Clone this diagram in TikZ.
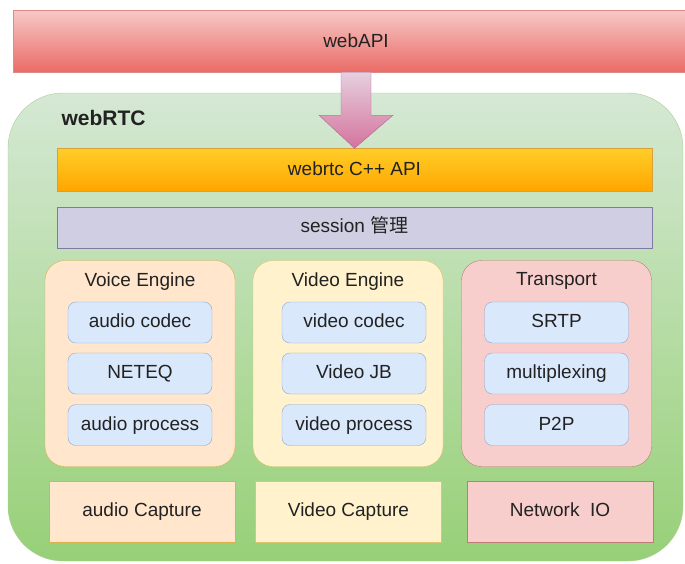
\documentclass[tikz,border=0pt]{standalone}
\usepackage{fontspec}
\setmainfont{Liberation Sans}
\newfontfamily\cjk{Noto Sans CJK SC}
\usetikzlibrary{positioning,calc}

\definecolor{txt}{HTML}{222222}
\definecolor{apitop}{HTML}{F7C9C7}
\definecolor{apibot}{HTML}{EA6B66}
\definecolor{apiline}{HTML}{D98C89}
\definecolor{greentop}{HTML}{D5E8D4}
\definecolor{greenbot}{HTML}{97D077}
\definecolor{greenline}{HTML}{A9CF95}
\definecolor{arrowtop}{HTML}{E6D0DE}
\definecolor{arrowbot}{HTML}{D5739D}
\definecolor{arrowline}{HTML}{A86A94}
\definecolor{cpptop}{HTML}{FFCD28}
\definecolor{cppbot}{HTML}{FFA500}
\definecolor{cppline}{HTML}{D7A13A}
\definecolor{sessfill}{HTML}{D0CEE2}
\definecolor{sessline}{HTML}{7E7AA0}
\definecolor{voicefill}{HTML}{FFE6CC}
\definecolor{voiceline}{HTML}{DDB04A}
\definecolor{videofill}{HTML}{FFF2CC}
\definecolor{videoline}{HTML}{DEC46E}
\definecolor{transfill}{HTML}{F8CECC}
\definecolor{transline}{HTML}{C07A77}
\definecolor{partfill}{HTML}{DAE8FC}
\definecolor{partline}{HTML}{8DA8CF}

\begin{document}
\begin{tikzpicture}[
    x=1pt, y=-1pt,
    every node/.style={font=\fontsize{19}{22}\selectfont, text=txt},
    layer/.style={draw, minimum width=595pt, minimum height=43pt, inner sep=0pt, text height=13pt, text depth=3pt},
    engine/.style={draw, rounded corners=20pt, minimum width=190pt, minimum height=206pt},
    part/.style={draw=partline, fill=partfill, rounded corners=8pt, minimum width=144pt, minimum height=41pt, inner sep=0pt, text height=13pt, text depth=3pt},
    capture/.style={draw, minimum width=186pt, minimum height=61pt, inner sep=0pt, text height=13pt, text depth=3pt}
    ]
    \useasboundingbox (0,0) rectangle (685,563);

    \node[draw=apiline, top color=apitop, bottom color=apibot,
          minimum width=686pt, minimum height=62pt] (webapi) at (356,41) {webAPI};

    \node[draw=greenline, top color=greentop, bottom color=greenbot, rounded corners=55pt,
          minimum width=675pt, minimum height=468pt] (webrtc) at (345.5,327) {};
    \node[anchor=west, font=\fontsize{21}{24}\selectfont\bfseries] (rtclabel) at (58,118) {webRTC};

    \node[layer, draw=cppline, top color=cpptop, bottom color=cppbot] (cppapi) at (354.5,170) {webrtc C++ API};
    \node[layer, draw=sessline, fill=sessfill, minimum height=41pt] (session) at (354.5,227.5) {session {\cjk 管理}};

    % block arrow from webAPI down to the C++ API
    \draw[draw=arrowline, top color=arrowtop, bottom color=arrowbot]
        ($(webapi.south)+(-15,0)$) -- ($(webapi.south)+(15,0)$) -- ($(webapi.south)+(15,43)$)
        -- ($(webapi.south)+(37,43)$) -- (cppapi.north) -- ($(webapi.south)+(-37,43)$)
        -- ($(webapi.south)+(-15,43)$) -- cycle;

    \node[engine, draw=voiceline, fill=voicefill] (voice) at (140,363.5) {};
    \node[engine, draw=videoline, fill=videofill] (video) at (348,363.5) {};
    \node[engine, draw=transline, fill=transfill] (trans) at (556.5,363.5) {};
    \node[below=9pt of voice.north] (voicetitle) {Voice Engine};
    \node[below=9pt of video.north] (videotitle) {Video Engine};
    \node[below=9pt of trans.north] (transtitle) {Transport};

    \node[part] (acodec) at (140,322.5) {audio codec};
    \node[part] (neteq)  at (140,373.5) {NETEQ};
    \node[part] (aproc)  at (140,425)   {audio process};

    \node[part] (vcodec) at (354,322.5) {video codec};
    \node[part] (vjb)    at (354,373.5) {Video JB};
    \node[part] (vproc)  at (354,425)   {video process};

    \node[part] (srtp)   at (556.5,322.5) {SRTP};
    \node[part] (mux)    at (556.5,373.5) {multiplexing};
    \node[part] (ptop)   at (556.5,425)   {P2P};

    \node[capture, draw=voiceline, fill=voicefill] (acap) at (142,511.5) {audio Capture};
    \node[capture, draw=videoline, fill=videofill] (vcap) at (348.5,511.5) {Video Capture};
    \node[capture, draw=transline, fill=transfill] (netio) at (560,511.5) {Network~ IO};
\end{tikzpicture}
\end{document}
